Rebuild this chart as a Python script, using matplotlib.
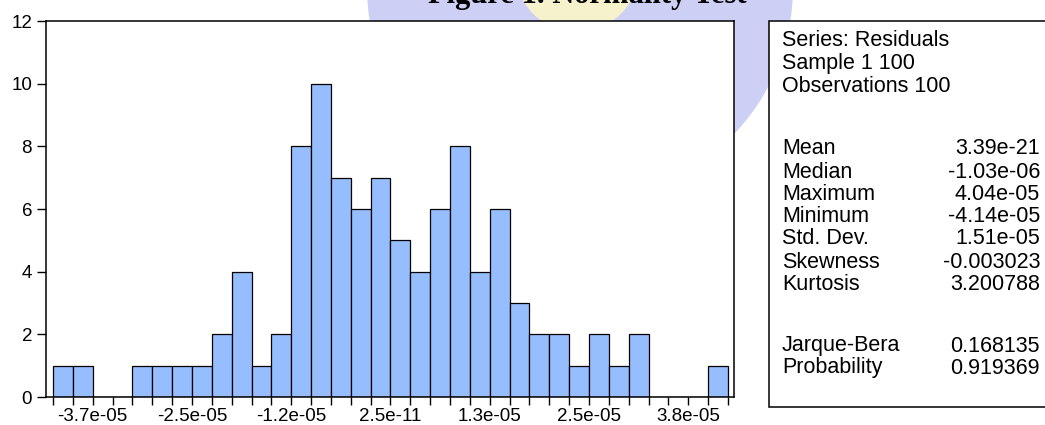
import matplotlib
matplotlib.use("Agg")
import matplotlib.pyplot as plt
import numpy as np
from matplotlib.patches import Rectangle, Ellipse

# ---- data ----
counts = [1, 1, 0, 0, 1, 1, 1, 1, 2, 4, 1, 2, 8, 10, 7, 6, 7, 5,
          4, 6, 8, 4, 6, 3, 2, 2, 1, 2, 1, 2, 0, 0, 0, 1]
bin_start = -4.25e-05
bin_width = 2.5e-06
tick_values = [-3.75e-05, -2.5e-05, -1.25e-05, 2.5e-11, 1.25e-05, 2.5e-05, 3.75e-05]
tick_labels = ["-3.7e-05", "-2.5e-05", "-1.2e-05", "2.5e-11", "1.3e-05", "2.5e-05", "3.8e-05"]
y_ticks = [0, 2, 4, 6, 8, 10, 12]

header_lines = ["Series: Residuals", "Sample 1 100", "Observations 100"]
stat_names = ["Mean", "Median", "Maximum", "Minimum", "Std. Dev.", "Skewness", "Kurtosis"]
stat_values = ["3.39e-21", "-1.03e-06", "4.04e-05", "-4.14e-05", "1.51e-05", "-0.003023", "3.200788"]
test_names = ["Jarque-Bera", "Probability"]
test_values = ["0.168135", "0.919369"]

title = "Figure 1. Normality Test"

# ---- figure ----
W, H = 1045, 425
fig = plt.figure(figsize=(W / 100, H / 100), dpi=100)

def fx(x):
    return x / W

def fy(y):
    return 1 - y / H

# faint watermark behind everything
fig.add_artist(Ellipse((fx(580), fy(-13)), 2 * 213 / W, 2 * 213 / H,
                       transform=fig.transFigure, facecolor="#CDCFF5",
                       edgecolor="none", zorder=-2))
fig.add_artist(Ellipse((fx(577), fy(-30)), 2 * 62 / W, 2 * 62 / H,
                       transform=fig.transFigure, facecolor="#F5F2CC",
                       edgecolor="none", zorder=-1))

fig.text(fx(587), fy(3.5), title, ha="center", va="baseline",
         fontfamily="Liberation Serif", fontweight="bold", fontsize=22, zorder=3)

# ---- histogram ----
ax = fig.add_axes([fx(46), 28 / H, 688 / W, 376 / H])
edges = bin_start + bin_width * np.arange(len(counts) + 1)
ax.bar(edges[:-1], counts, width=bin_width, align="edge",
       color="#96BDFE", edgecolor="black", linewidth=0.9, zorder=2)
ax.set_xlim(edges[0] - 0.35 * bin_width, edges[-1] + 0.3 * bin_width)
ax.set_ylim(0, 12)

ax.set_xticks(tick_values)
ax.set_xticklabels(tick_labels)
ax.set_xticks(edges, minor=True)
ax.set_yticks(y_ticks)
ax.set_yticklabels([str(v) for v in y_ticks])

for lab in ax.get_xticklabels() + ax.get_yticklabels():
    lab.set_fontfamily("Liberation Sans")
    lab.set_fontsize(13.5)

ax.tick_params(axis="x", which="both", direction="out", length=6, width=1, pad=2)
ax.tick_params(axis="y", which="major", direction="out", length=6.5, width=1, pad=3.5)
for s in ax.spines.values():
    s.set_linewidth(1.1)
    s.set_color("black")

# ---- stats box ----
fig.add_artist(Rectangle((fx(769), fy(407)), (1070 - 769) / W, (407 - 21) / H,
                         transform=fig.transFigure, facecolor="white",
                         edgecolor="black", linewidth=1.1, zorder=1))

txt = dict(fontfamily="Liberation Sans", fontsize=15.5, va="baseline", zorder=2)
label_x = fx(782)
value_x = fx(1040)
header_y = [40, 63, 86]
stat_y = [148, 171, 193, 216, 238, 261, 283]
test_y = [345, 367]
off = 6.5
for s, y in zip(header_lines, header_y):
    fig.text(label_x, fy(y + off), s, ha="left", **txt)
for s, v, y in zip(stat_names, stat_values, stat_y):
    fig.text(label_x, fy(y + off), s, ha="left", **txt)
    fig.text(value_x, fy(y + off), v, ha="right", **txt)
for s, v, y in zip(test_names, test_values, test_y):
    fig.text(label_x, fy(y + off), s, ha="left", **txt)
    fig.text(value_x, fy(y + off), v, ha="right", **txt)

fig.savefig("out.png", dpi=100)
